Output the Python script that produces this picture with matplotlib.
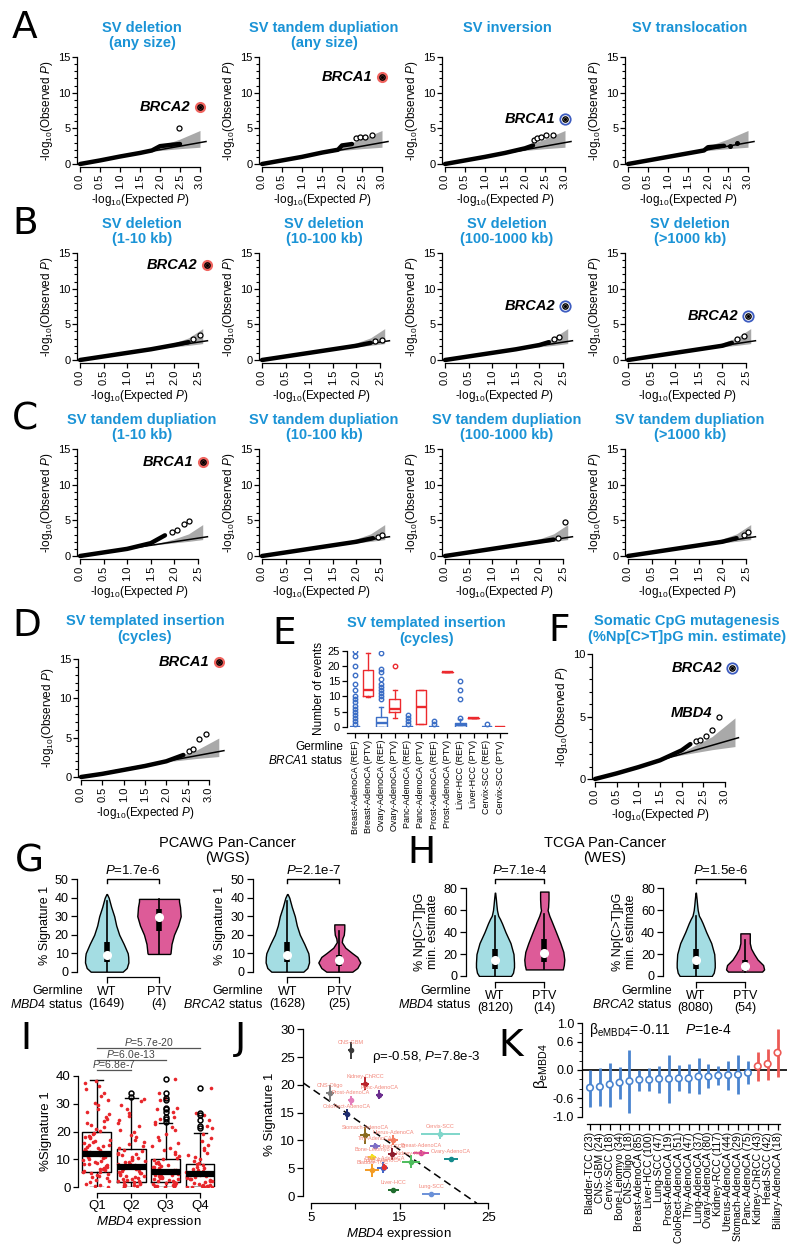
import numpy as np
import matplotlib
matplotlib.use('Agg')
import matplotlib.pyplot as plt
from matplotlib.ticker import MultipleLocator
import seaborn as sns

plt.rcParams['font.family'] = ['Liberation Sans', 'DejaVu Sans']
plt.rcParams['mathtext.fontset'] = 'custom'
plt.rcParams['mathtext.rm'] = 'Liberation Sans'
plt.rcParams['mathtext.it'] = 'Liberation Sans:italic'
plt.rcParams['mathtext.bf'] = 'Liberation Sans:bold'
plt.rcParams['axes.linewidth'] = 0.9

# ---------------- data: QQ plots (trend of dense points, separate points, hits)
band_a_x = [1.7, 2.0, 2.5, 3.0]
band_a_lo = [1.7, 1.9, 2.15, 2.35]
band_a_hi = [1.7, 2.5, 3.5, 4.7]
band_bc_x = [1.5, 2.0, 2.3, 2.6]
band_bc_lo = [1.5, 1.85, 2.05, 2.3]
band_bc_hi = [1.5, 2.4, 3.1, 4.4]
band_d_x = [1.8, 2.2, 2.7, 3.23]
band_d_lo = [1.8, 2.05, 2.35, 2.6]
band_d_hi = [1.8, 2.5, 3.4, 4.95]

a1_tx, a1_ty = [0, 0.5, 1.0, 1.5, 1.8, 2.0, 2.3, 2.5], [0, 0.5, 1.05, 1.55, 1.9, 2.5, 2.7, 2.8]
a1_px, a1_py = [2.48], [5.1]
a2_tx, a2_ty = [0, 0.5, 1.0, 1.5, 1.9, 2.0, 2.25], [0, 0.5, 1.0, 1.6, 2.0, 2.6, 2.8]
a2_px, a2_py = [2.34, 2.45, 2.58, 2.74], [3.7, 3.8, 3.85, 4.0]
a3_tx, a3_ty = [0, 0.5, 1.0, 1.5, 2.0, 2.2], [0, 0.5, 1.0, 1.55, 2.2, 2.6]
a3_px, a3_py = [2.23, 2.31, 2.4, 2.53, 2.7], [3.4, 3.7, 3.8, 4.05, 4.05]
a4_tx, a4_ty = [0, 0.5, 1.0, 1.5, 1.9, 2.0, 2.4], [0, 0.5, 1.0, 1.5, 1.9, 2.35, 2.55]
a4_px, a4_py = [2.55, 2.72], [2.55, 3.0]

b1_tx, b1_ty = [0, 0.5, 1.0, 1.5, 2.0, 2.3], [0, 0.5, 1.0, 1.5, 2.1, 2.5]
b1_px, b1_py = [2.4, 2.55], [2.9, 3.5]
b2_tx, b2_ty = [0, 0.5, 1.0, 1.5, 2.0, 2.3], [0, 0.5, 1.0, 1.5, 2.0, 2.4]
b2_px, b2_py = [2.4, 2.55], [2.6, 2.8]
b3_tx, b3_ty = [0, 0.5, 1.0, 1.5, 2.0, 2.2], [0, 0.5, 1.0, 1.5, 2.1, 2.5]
b3_px, b3_py = [2.3, 2.42], [3.0, 3.2]
b4_tx, b4_ty = [0, 0.5, 1.0, 1.5, 2.0, 2.2], [0, 0.5, 1.0, 1.5, 2.0, 2.4]
b4_px, b4_py = [2.3, 2.45], [3.0, 3.4]

c1_tx, c1_ty = [0, 0.5, 1.0, 1.5, 1.8], [0, 0.5, 1.0, 1.8, 2.9]
c1_px, c1_py = [1.95, 2.05, 2.2, 2.3], [3.3, 3.6, 4.5, 4.9]
c2_tx, c2_ty = [0, 0.5, 1.0, 1.5, 2.0, 2.35], [0, 0.5, 1.0, 1.5, 2.0, 2.5]
c2_px, c2_py = [2.45, 2.55], [2.7, 2.9]
c3_tx, c3_ty = [0, 0.5, 1.0, 1.5, 2.0, 2.3], [0, 0.5, 1.0, 1.5, 2.0, 2.3]
c3_px, c3_py = [2.4, 2.55], [2.5, 4.7]
c4_tx, c4_ty = [0, 0.5, 1.0, 1.5, 2.0, 2.3], [0, 0.5, 1.0, 1.5, 2.0, 2.5]
c4_px, c4_py = [2.45, 2.55], [3.0, 3.4]

d_tx, d_ty = [0, 0.5, 1.0, 1.5, 2.0, 2.4], [0, 0.4, 0.9, 1.4, 2.0, 2.8]
d_px, d_py = [2.54, 2.62, 2.76, 2.93], [3.34, 3.56, 4.83, 5.5]
f_tx, f_ty = [0, 0.5, 1.0, 1.5, 2.0, 2.2], [0, 0.45, 0.95, 1.5, 2.3, 2.8]
f_px, f_py = [2.33, 2.42, 2.56, 2.69], [3.05, 3.1, 3.47, 3.93]
f_mbd4 = (2.87, 4.95)

# ---------------- data: panel E boxplots
e_labels = ['Breast-AdenoCA (REF)', 'Breast-AdenoCA (PTV)', 'Ovary-AdenoCA (REF)',
            'Ovary-AdenoCA (PTV)', 'Panc-AdenoCA (REF)', 'Panc-AdenoCA (PTV)',
            'Prost-AdenoCA (REF)', 'Prost-AdenoCA (PTV)', 'Liver-HCC (REF)',
            'Liver-HCC (PTV)', 'Cervix-SCC (REF)', 'Cervix-SCC (PTV)']
e_med = [0, 12.1, 1.1, 6, 0, 6.6, 0, 18.2, 0.5, 3, 0, 0]
e_q1 = [0, 10.1, 0, 5, 0, 1, 0, 18.2, 0, 3, 0, 0]
e_q3 = [0, 18.7, 3.3, 9, 0, 12, 0, 18.2, 1.3, 3, 0, 0]
e_wlo = [0, 9.9, 0, 3, 0, 1, 0, 18.2, 0, 3, 0, 0]
e_whi = [0, 24.2, 6.4, 12, 0, 12, 0, 18.2, 2.4, 3, 0, 0]
e_fliers = [[1, 2, 3, 4, 5, 6, 7, 8, 9, 10, 12, 14, 17, 19.9, 23.3, 25],
            [], [9, 10, 11, 12, 13, 14, 15.6, 18, 19, 24.2], [20], [1, 2, 3, 4], [],
            [1, 2], [], [3, 9, 12, 15], [], [1], []]

# ---------------- data: panels G/H violins (y grid, relative density, lo/q1/med/q3/hi)
g_wt_y = [0, 2, 5, 8, 10, 15, 20, 25, 30, 35, 38, 40, 42]
g_wt_d = [16, 20, 21.7, 21.5, 21, 17, 12.5, 9.5, 7.5, 4.5, 3, 2, 0.3]
g_wt_box = [0, 5, 9, 16, 38]
g1_ptv_y = [9.6, 10, 15, 20, 25, 30, 35, 38, 39.4]
g1_ptv_d = [11, 11.5, 12.5, 15, 19, 21.7, 21, 20, 20]
g1_ptv_box = [9.6, 22, 29.5, 34, 39.4]
g2_ptv_y = [0, 2, 5, 8, 10, 13, 16, 18, 20, 23, 25.6]
g2_ptv_d = [13, 18, 21, 18, 13, 6, 2.5, 3, 4.5, 5, 5]
g2_ptv_box = [0, 3, 6.3, 9, 22]
h_wt_y = [0, 3, 8, 12, 20, 30, 40, 48, 52, 55, 60, 65, 70, 76]
h_wt_d = [16, 18, 19, 19, 18.5, 15.5, 10.5, 7, 5, 3.2, 2, 1.4, 0.9, 0.2]
h_wt_box = [0, 6, 14.5, 25, 55]
h1_ptv_y = [6, 10, 15, 22, 30, 40, 50, 55, 60, 63, 70, 77]
h1_ptv_d = [18.5, 19.5, 20, 19, 16, 11.7, 7.3, 5, 3.3, 3.8, 4.2, 4.2]
h1_ptv_box = [6, 13, 21.3, 34, 57]
h2_ptv_y = [4, 6, 10, 15, 20, 25, 30, 35, 38.9]
h2_ptv_d = [17, 19, 18, 12.5, 9, 6, 4.7, 4.7, 4.7]
h2_ptv_box = [4, 4.5, 9.1, 15, 33]

# ---------------- data: panel I
i_labels = ['Q1', 'Q2', 'Q3', 'Q4']
i_med = [11.8, 7.4, 5.6, 4.7]
i_q1 = [5.4, 1.9, 2.0, 0.2]
i_q3 = [19.7, 13.9, 10.3, 8.2]
i_whi = [38.4, 32.1, 22.9, 19.3]
i_fliers = [[], [32.5, 33.7],
            [23.5, 24.6, 25.3, 27.1, 27.9, 28.5, 31.3, 31.9, 33.9, 38.7],
            [21.4, 22.1, 24.1, 25.9, 26.5, 35.7]]
i_q1_pts = [0.1, 0.4, 0.9, 1.3, 1.8, 2.4, 2.7, 3.2, 3.6, 4.0, 4.3, 4.8, 5.1, 5.4, 5.5, 5.9,
            6.2, 6.6, 6.9, 7.2, 7.7, 8.1, 8.3, 8.8, 9.2, 9.6, 9.9, 10.3, 10.5, 10.9, 11.2,
            11.4, 11.7, 11.9, 12.2, 12.6, 12.9, 13.3, 13.7, 14.0, 14.5, 14.9, 15.3, 15.8,
            16.2, 16.7, 17.1, 17.6, 18.0, 18.5, 19.1, 19.6, 20.2, 20.9, 21.5, 22.2, 22.9,
            23.7, 24.4, 25.3, 26.1, 27.0, 28.2, 29.4, 30.1, 31.3, 32.6, 33.8, 35.1, 36.2,
            37.4, 38.0, 11.6, 12.0, 10.7, 13.1, 8.5, 6.4, 15.1, 17.9]
i_q2_pts = [0.0, 0.2, 0.4, 0.7, 0.9, 1.2, 1.5, 1.8, 2.0, 2.3, 2.6, 2.9, 3.3, 3.6, 3.9, 4.3,
            4.6, 5.0, 5.3, 5.7, 6.0, 6.4, 6.8, 7.1, 7.4, 7.7, 8.1, 8.5, 8.9, 9.2, 9.6, 10.1,
            10.5, 11.0, 11.4, 11.9, 12.4, 12.9, 13.5, 14.1, 14.8, 15.5, 16.3, 17.0, 17.9,
            18.8, 19.7, 20.7, 21.8, 22.9, 24.1, 25.4, 26.8, 28.2, 29.6, 30.9, 31.8, 7.3,
            7.6, 6.6, 8.3, 5.5, 3.1, 1.0, 9.9, 12.1, 4.1, 2.2]
i_q3_pts = [0.0, 0.1, 0.3, 0.5, 0.8, 1.0, 1.3, 1.6, 1.9, 2.1, 2.4, 2.7, 3.0, 3.3, 3.5, 3.8,
            4.1, 4.4, 4.7, 5.0, 5.2, 5.5, 5.7, 6.0, 6.3, 6.6, 6.9, 7.3, 7.6, 8.0, 8.4, 8.8,
            9.2, 9.7, 10.1, 10.6, 11.2, 11.8, 12.5, 13.2, 14.0, 14.9, 15.8, 16.9, 18.0,
            19.2, 20.5, 21.7, 22.8, 5.4, 5.8, 5.6, 4.9, 6.2, 3.6, 2.9, 4.3, 7.1, 1.5, 0.6,
            23.5, 24.6, 25.3, 27.1, 27.9, 28.5, 31.3, 31.9, 33.9, 38.7]
i_q4_pts = [0.0, 0.0, 0.1, 0.2, 0.4, 0.6, 0.9, 1.2, 1.5, 1.8, 2.1, 2.4, 2.7, 3.0, 3.3, 3.6,
            3.9, 4.2, 4.4, 4.6, 4.8, 5.0, 5.3, 5.6, 5.9, 6.2, 6.6, 7.0, 7.4, 7.9, 8.3, 8.8,
            9.4, 10.0, 10.7, 11.5, 12.3, 13.2, 14.2, 15.3, 16.5, 17.8, 19.1, 4.7, 4.5, 4.9,
            5.2, 3.8, 2.9, 1.0, 0.3, 6.0, 21.4, 22.1, 24.1, 25.9, 26.5, 35.7]

# ---------------- data: panel J
j_names = ['CNS-GBM', 'Kidney-ChRCC', 'Panc-AdenoCA', 'CNS-Oligo', 'Prost-AdenoCA',
           'ColoRect-AdenoCA', 'Stomach-AdenoCA', 'Uterus-AdenoCA', 'Thy-AdenoCA', 'Head-SCC',
           'Bone-Leiomyo', 'Breast-AdenoCA', 'Ovary-AdenoCA', 'Cervix-SCC', 'Kidney-RCC',
           'Bladder-TCC', 'Lung-AdenoCA', 'Biliary-AdenoCA', 'Liver-HCC', 'Lung-SCC']
j_x = [9.5, 11.1, 12.7, 7.2, 9.5, 9.05, 11.15, 14.3, 12.25, 14.2, 11.9, 17.4, 20.8, 19.6,
       16.3, 11.9, 13.1, 13.3, 14.3, 18.55]
j_y = [26.2, 20.2, 18.2, 18.5, 17.2, 14.7, 10.9, 10.0, 9.0, 7.6, 7.0, 7.8, 6.6, 11.2, 6.2,
       4.6, 5.1, 5.3, 1.1, 0.3]
j_xerr = [0.3, 0.45, 0.4, 0.45, 0.25, 0.4, 0.55, 0.55, 0.6, 0.5, 0.45, 0.9, 0.8, 2.2, 1.0,
          0.8, 0.6, 0.3, 0.6, 1.0]
j_yerr = [1.5, 1.2, 0.8, 1.4, 0.8, 1.0, 1.5, 0.9, 0.6, 1.1, 0.5, 0.5, 0.3, 0.9, 1.2, 1.1,
          1.0, 0.5, 0.3, 0.2]
j_colors = ['#3a3a3a', '#b8232b', '#6a2d8e', '#7d7d7d', '#e27cbb', '#1d2b6e', '#8a6a1f',
            '#f27a5e', '#7b6dc6', '#8c1c2c', '#f3e11e', '#d6449a', '#138a8c', '#7fd6ca',
            '#4dbc5c', '#f39b22', '#3f63c9', '#e2312e', '#1f6c2e', '#6b91d8']
j_fit_x = [4.2, 23.7]
j_fit_y = [20.3, -1.3]

# ---------------- data: panel K
k_names = ['Bladder-TCC', 'CNS-GBM', 'Cervix-SCC', 'Bone-Leiomyo', 'CNS-Oligo',
           'Breast-AdenoCA', 'Liver-HCC', 'Lung-SCC', 'Prost-AdenoCA', 'ColoRect-AdenoCA',
           'Thy-AdenoCA', 'Lung-AdenoCA', 'Ovary-AdenoCA', 'Kidney-RCC', 'Uterus-AdenoCA',
           'Stomach-AdenoCA', 'Panc-AdenoCA', 'Kidney-ChRCC', 'Head-SCC', 'Biliary-AdenoCA']
k_n = [23, 24, 18, 34, 18, 85, 100, 47, 19, 51, 47, 37, 80, 117, 44, 29, 75, 43, 42, 18]
k_beta = [-0.38, -0.36, -0.31, -0.27, -0.24, -0.21, -0.21, -0.19, -0.19, -0.18, -0.18,
          -0.14, -0.14, -0.12, -0.11, -0.10, -0.06, 0.08, 0.13, 0.37]
k_lo = [-0.79, -0.77, -0.79, -0.63, -0.93, -0.45, -0.45, -0.49, -0.70, -0.46, -0.49, -0.52,
        -0.39, -0.32, -0.43, -0.52, -0.31, -0.24, -0.21, -0.16]
k_hi = [0.01, 0.04, 0.16, 0.07, 0.43, 0.01, 0.04, 0.09, 0.32, 0.11, 0.13, 0.25, 0.13, 0.09,
        0.20, 0.32, 0.19, 0.39, 0.46, 0.87]

# ---------------- layout helpers (pixel coordinates, origin top-left)
W, H = 800, 1252
TBLUE = '#1a93d6'
fig = plt.figure(figsize=(8, 12.52), dpi=100)


def add_ax(x0, y0, x1, y1):
    return fig.add_axes([x0 / W, 1 - y1 / H, (x1 - x0) / W, (y1 - y0) / H])


def ftext(x, y, s, **kw):
    return fig.text(x / W, 1 - y / H, s, **kw)


def letter(x, y, s):
    ftext(x, y, s, fontsize=27, family='DejaVu Sans', ha='left', va='top')


def blue_title(cx, cy, s):
    ftext(cx, cy, s, ha='center', va='center', color=TBLUE, fontweight='bold',
          fontsize=10.5, linespacing=1.1)


def qq(box, xmax, ymax, tx, ty, px, py, band, ref_end, hit=None, gene=None,
       ring='red', dots=False, ystep=5):
    ax = add_ax(*box)
    ax.set_xlim(0, xmax)
    ax.set_ylim(0, ymax)
    ax.fill_between(band[0], band[1], band[2], color='#a9a9a9', lw=0, zorder=1,
                    clip_on=False)
    ax.plot([0, ref_end], [0, ref_end], color='black', lw=1.1, zorder=2, clip_on=False)
    ax.plot(tx, ty, color='black', lw=3.2, solid_capstyle='round', zorder=3, clip_on=False)
    if dots:
        ax.plot(px, py, 'o', ms=2.6, color='black', zorder=4, clip_on=False)
    else:
        ax.plot(px, py, 'o', ms=3.6, mfc='white', mec='black', mew=0.9, zorder=4,
                clip_on=False)
    if hit is not None:
        hx, hy = hit
        if ring == 'red':
            ax.plot(hx, hy, 'o', ms=7, mfc='#f0645f', mec='#f0645f', zorder=5, clip_on=False)
        else:
            ax.plot(hx, hy, 'o', ms=7.5, mfc='white', mec='#3d5cc0', mew=1.3, zorder=5,
                    clip_on=False)
        ax.plot(hx, hy, 'o', ms=3.8, mfc='none', mec='black', mew=1, zorder=6, clip_on=False)
        ax.plot(hx, hy, 'o', ms=1.4, color='black', zorder=7, clip_on=False)
        ax.annotate(gene, (hx, hy), xytext=(-7, 0), textcoords='offset points', ha='right',
                    va='center', fontsize=10.5, fontweight='bold', fontstyle='italic',
                    annotation_clip=False)
    for s in ('top', 'right'):
        ax.spines[s].set_visible(False)
    ax.spines['left'].set_position(('outward', 2))
    ax.spines['bottom'].set_position(('outward', 2))
    xt = np.arange(0, int(xmax * 2 + 0.01) + 1) * 0.5
    ax.set_xticks(xt)
    ax.set_xticklabels(['%.1f' % v for v in xt], rotation=90)
    ax.set_yticks(np.arange(0, ymax + 0.1, ystep))
    ax.yaxis.set_minor_locator(MultipleLocator(1))
    ax.spines['bottom'].set_bounds(0, xt[-1])
    ax.spines['left'].set_bounds(0, ymax)
    ax.tick_params(direction='out', length=3.5, width=0.9, labelsize=8, pad=1.5)
    ax.tick_params(which='minor', length=2, width=0.8)
    ax.set_ylabel(r'-log$_{10}$(Observed $P$)', fontsize=8.5, labelpad=2)
    ax.set_xlabel(r'-log$_{10}$(Expected $P$)', fontsize=8.5, labelpad=2)
    return ax


# ---------------- rows A, B, C
col_x = [80, 262, 445, 628]
band_a = (band_a_x, band_a_lo, band_a_hi)
band_bc = (band_bc_x, band_bc_lo, band_bc_hi)

letter(12, 10, 'A')
titles_a = ['SV deletion\n(any size)', 'SV tandem dupliation\n(any size)', 'SV inversion',
            'SV translocation']
for x0, t in zip(col_x, titles_a):
    blue_title(x0 + 62, 35.5 if '\n' in t else 28, t)
qq((80, 57, 200, 164), 3, 15, a1_tx, a1_ty, a1_px, a1_py, band_a, 3.15, (3.0, 8.0), 'BRCA2')
qq((262, 57, 382, 164), 3, 15, a2_tx, a2_ty, a2_px, a2_py, band_a, 3.15, (3.0, 12.2), 'BRCA1')
qq((445, 57, 565, 164), 3, 15, a3_tx, a3_ty, a3_px, a3_py, band_a, 3.15, (3.0, 6.3), 'BRCA1',
   ring='blue')
qq((628, 57, 748, 164), 3, 15, a4_tx, a4_ty, a4_px, a4_py, band_a, 3.15, dots=True)

letter(12, 206, 'B')
for x0, t in zip(col_x, ['(1-10 kb)', '(10-100 kb)', '(100-1000 kb)', '(>1000 kb)']):
    blue_title(x0 + 62, 231.5, 'SV deletion\n' + t)
qq((80, 253, 198, 360), 2.5, 15, b1_tx, b1_ty, b1_px, b1_py, band_bc, 2.7, (2.7, 13.3), 'BRCA2')
qq((262, 253, 380, 360), 2.5, 15, b2_tx, b2_ty, b2_px, b2_py, band_bc, 2.7)
qq((445, 253, 563, 360), 2.5, 15, b3_tx, b3_ty, b3_px, b3_py, band_bc, 2.7, (2.55, 7.5),
   'BRCA2', ring='blue')
qq((628, 253, 746, 360), 2.5, 15, b4_tx, b4_ty, b4_px, b4_py, band_bc, 2.7, (2.55, 6.1),
   'BRCA2', ring='blue')

letter(12, 402, 'C')
for x0, t in zip(col_x, ['(1-10 kb)', '(10-100 kb)', '(100-1000 kb)', '(>1000 kb)']):
    blue_title(x0 + 62, 427.5, 'SV tandem dupliation\n' + t)
qq((80, 449, 198, 556), 2.5, 15, c1_tx, c1_ty, c1_px, c1_py, band_bc, 2.7, (2.6, 13.2), 'BRCA1')
qq((262, 449, 380, 556), 2.5, 15, c2_tx, c2_ty, c2_px, c2_py, band_bc, 2.7)
qq((445, 449, 563, 556), 2.5, 15, c3_tx, c3_ty, c3_px, c3_py, band_bc, 2.7)
qq((628, 449, 746, 556), 2.5, 15, c4_tx, c4_ty, c4_px, c4_py, band_bc, 2.7)

# ---------------- D
letter(12, 608, 'D')
blue_title(145, 629, 'SV templated insertion\n(cycles)')
qq((81, 659, 209, 777), 3, 15, d_tx, d_ty, d_px, d_py, (band_d_x, band_d_lo, band_d_hi),
   3.35, (3.23, 14.6), 'BRCA1')

# ---------------- E
letter(272, 616, 'E')
blue_title(426.5, 631, 'SV templated insertion\n(cycles)')
ax = add_ax(347, 651, 507, 726.7)
ax.set_xlim(-0.61, 11.53)
ax.set_ylim(0, 25)
e_stats = [dict(med=m, q1=a, q3=b, whislo=lo, whishi=hi, fliers=f)
           for m, a, b, lo, hi, f in zip(e_med, e_q1, e_q3, e_wlo, e_whi, e_fliers)]
res = ax.bxp(e_stats, positions=np.arange(12), widths=0.8, capwidths=0.3, showfliers=True,
             boxprops=dict(lw=1), whiskerprops=dict(lw=1), capprops=dict(lw=1),
             medianprops=dict(lw=1.7), flierprops=dict(marker='o', ms=3.2, mfc='none', mew=1))
for i in range(12):
    c = '#3d6fc6' if i % 2 == 0 else '#ec2a2e'
    res['boxes'][i].set_color(c)
    res['medians'][i].set_color(c)
    for art in res['whiskers'][2 * i:2 * i + 2] + res['caps'][2 * i:2 * i + 2]:
        art.set_color(c)
    res['fliers'][i].set_markeredgecolor(c)
for s in ('top', 'right'):
    ax.spines[s].set_visible(False)
ax.spines['bottom'].set_position(('outward', 4.5))
ax.spines['left'].set_bounds(0, 25)
ax.set_yticks([0, 5, 10, 15, 20, 25])
ax.set_xticks(np.arange(12))
ax.set_xticklabels(e_labels, rotation=90, fontsize=6.5)
ax.tick_params(direction='out', length=3.5, width=0.9, labelsize=8, pad=1.5)
ax.tick_params(axis='x', labelsize=6.5)
ax.set_ylabel('Number of events', fontsize=8.5, labelpad=2)
ftext(343, 747, 'Germline', ha='right', va='center', fontsize=8.5)
ftext(343, 760, r'$\mathit{BRCA1}$ status', ha='right', va='center', fontsize=8.5)

# ---------------- F
letter(548, 613, 'F')
blue_title(686.7, 629, 'Somatic CpG mutagenesis\n(%Np[C>T]pG min. estimate)')
ax = qq((595, 654.3, 725, 779), 3, 10, f_tx, f_ty, f_px, f_py,
        (band_d_x, band_d_lo, [1.8, 2.5, 3.4, 4.9]), 3.31, (3.16, 8.88), 'BRCA2', ring='blue')
ax.plot(*f_mbd4, 'o', ms=3.6, mfc='white', mec='black', mew=0.9, zorder=4, clip_on=False)
ax.annotate('MBD4', f_mbd4, xytext=(-5, 3), textcoords='offset points', ha='right',
            va='center', fontsize=10.5, fontweight='bold', fontstyle='italic',
            annotation_clip=False)


# ---------------- G / H violins
def violin_panel(box, xlim, ymax, ystep, pxu, wt, ptv, ylabel, ptext, gene, n_wt, n_ptv,
                 bracket_y, tick_y):
    ax = add_ax(*box)
    ax.set_xlim(*xlim)
    ax.set_ylim(0, ymax)
    for pos, (yy, dd, bx), col in zip([0, 1], [wt, ptv], ['#a4dde3', '#dd5b98']):
        st = dict(coords=yy, vals=dd, mean=bx[2], median=bx[2], min=yy[0], max=yy[-1])
        parts = ax.violin([st], positions=[pos], widths=2 * max(dd) / pxu,
                          showmeans=False, showextrema=False, showmedians=False)
        for b in parts['bodies']:
            b.set_facecolor(col)
            b.set_edgecolor('black')
            b.set_linewidth(1)
            b.set_alpha(1)
        ax.plot([pos, pos], [bx[0], bx[4]], color='black', lw=1.2, zorder=3)
        ax.plot([pos, pos], [bx[1], bx[3]], color='black', lw=4, solid_capstyle='butt',
                zorder=4)
        ax.plot(pos, bx[2], 'o', ms=5.5, color='white', zorder=5)
    ax.plot([0, 0, 1, 1], [tick_y, bracket_y, bracket_y, tick_y], color='black', lw=1,
            clip_on=False)
    ax.text(0.5, bracket_y + ymax * 0.03, ptext, ha='center', va='bottom', fontsize=9.5)
    for s in ('top', 'right'):
        ax.spines[s].set_visible(False)
    ax.spines['bottom'].set_position(('outward', 4))
    ax.spines['bottom'].set_bounds(0, 1)
    ax.spines['left'].set_bounds(0, ymax)
    ax.set_yticks(np.arange(0, ymax + 0.1, ystep))
    ax.set_xticks([0, 1])
    ax.set_xticklabels(['WT\n(%d)' % n_wt, 'PTV\n(%d)' % n_ptv], linespacing=1.05)
    ax.tick_params(direction='out', length=4, width=0.9, labelsize=9, pad=2)
    ax.set_ylabel(ylabel, fontsize=9, labelpad=3, linespacing=1.1)
    wt_px = box[0] - xlim[0] * pxu
    ftext(wt_px - 24, 991, 'Germline', ha='right', va='center', fontsize=9)
    ftext(wt_px - 24, 1005, r'$\mathit{%s}$ status' % gene, ha='right', va='center',
          fontsize=9)
    return ax


letter(15, 843, 'G')
ftext(227, 850.5, 'PCAWG Pan-Cancer\n(WGS)', ha='center', va='center', fontsize=10.5,
      linespacing=1.1)
violin_panel((77, 879.3, 185, 971.7), (-0.568, 1.497), 50, 10, 52.3,
             (g_wt_y, g_wt_d, g_wt_box), (g1_ptv_y, g1_ptv_d, g1_ptv_box),
             '% Signature 1', r'$P$=1.7e-6', 'MBD4', 1649, 4, 50, 48)
violin_panel((253, 879.3, 365, 971.7), (-0.66, 1.494), 50, 10, 52.0,
             (g_wt_y, g_wt_d, g_wt_box), (g2_ptv_y, g2_ptv_d, g2_ptv_box),
             '% Signature 1', r'$P$=2.1e-7', 'BRCA2', 1628, 25, 50, 48)

letter(407, 835, 'H')
ftext(605, 850.5, 'TCGA Pan-Cancer\n(WES)', ha='center', va='center', fontsize=10.5,
      linespacing=1.1)
violin_panel((465.7, 888.3, 570, 976), (-0.594, 1.521), 80, 20, 49.3,
             (h_wt_y, h_wt_d, h_wt_box), (h1_ptv_y, h1_ptv_d, h1_ptv_box),
             '% Np[C>T]pG\nmin. estimate', r'$P$=7.1e-4', 'MBD4', 8120, 14, 88.2, 84.5)
violin_panel((663.3, 888.3, 770, 976), (-0.657, 1.505), 80, 20, 49.3,
             (h_wt_y, h_wt_d, h_wt_box), (h2_ptv_y, h2_ptv_d, h2_ptv_box),
             '% Np[C>T]pG\nmin. estimate', r'$P$=1.5e-6', 'BRCA2', 8080, 54, 88.2, 84.5)

# ---------------- I
letter(20, 1021, 'I')
ax = add_ax(78.3, 1075.7, 220, 1187.3)
sns.stripplot(data=[np.array(i_q1_pts), np.array(i_q2_pts), np.array(i_q3_pts),
                    np.array(i_q4_pts)], ax=ax, color='#e8262b', size=2.6, jitter=0.4,
              linewidth=0, zorder=3)
i_stats = [dict(med=m, q1=a, q3=b, whislo=0, whishi=hi, fliers=f)
           for m, a, b, hi, f in zip(i_med, i_q1, i_q3, i_whi, i_fliers)]
ax.bxp(i_stats, positions=np.arange(4), widths=0.84, capwidths=0.38, showfliers=True,
       boxprops=dict(lw=1, color='black', zorder=2), whiskerprops=dict(lw=1, zorder=2),
       capprops=dict(lw=1, zorder=2), medianprops=dict(lw=4.5, color='black', zorder=4),
       flierprops=dict(marker='o', ms=3.5, mfc='none', mec='black', mew=1.1, zorder=5))
ax.set_xlim(-0.54, 3.58)
ax.set_ylim(0, 40)
for s in ('top', 'right'):
    ax.spines[s].set_visible(False)
ax.spines['bottom'].set_position(('outward', 4))
ax.spines['bottom'].set_bounds(0, 3)
ax.spines['left'].set_bounds(0, 40)
ax.set_xticks(np.arange(4))
ax.set_xticklabels(i_labels)
ax.set_yticks([0, 10, 20, 30, 40])
ax.tick_params(direction='out', length=3.5, width=0.9, labelsize=9.5, pad=2)
ax.set_ylabel('%Signature 1', fontsize=9.5, labelpad=3)
ax.set_xlabel(r'$\mathit{MBD4}$ expression', fontsize=9.5, labelpad=1)
for k, (yy, t) in enumerate(zip([42.0, 45.6, 49.8], ['$P$=6.8e-7', '$P$=6.0e-13',
                                                       '$P$=5.7e-20'])):
    ax.plot([0, k + 1], [yy, yy], color='#555555', lw=0.9, clip_on=False)
    ax.text((k + 1) / 2, yy + 0.2, t, ha='center', va='bottom', fontsize=7.5,
            color='#444444')

# ---------------- J
letter(235, 1021, 'J')
ax = add_ax(303.3, 1025, 495, 1203.3)
ax.set_xlim(4.17, 25.75)
ax.set_ylim(-1.31, 30.76)
ax.plot(j_fit_x, j_fit_y, color='black', lw=1.1, dashes=(5, 3), zorder=1)
for x, y, xe, ye, c, n in zip(j_x, j_y, j_xerr, j_yerr, j_colors, j_names):
    ax.errorbar(x, y, xerr=xe, yerr=ye, fmt='o', color=c, ms=3, elinewidth=1.4, capsize=0,
                zorder=3)
    ax.annotate(n, (x, y), xytext=(0, 5.5), textcoords='offset points', ha='center',
                va='center', fontsize=4.0, color='#f2877b', zorder=4)
for s in ('top', 'right'):
    ax.spines[s].set_visible(False)
ax.spines['left'].set_bounds(0, 30)
ax.spines['bottom'].set_bounds(5, 25)
ax.set_xticks([5, 10, 15, 20, 25])
ax.set_xticklabels(['5', '', '15', '', '25'])
ax.set_yticks([0, 5, 10, 15, 20, 25, 30])
ax.tick_params(direction='out', length=4, width=0.9, labelsize=9.5, pad=2)
ax.set_ylabel('% Signature 1', fontsize=9.5, labelpad=3)
ax.set_xlabel(r'$\mathit{MBD4}$ expression', fontsize=9.5, labelpad=2)
ftext(371.7, 1057.3, r'ρ=-0.58, $P$=7.8e-3', ha='left', va='center', fontsize=9.5)

# ---------------- K
letter(498, 1028, 'K')
ax = add_ax(581.7, 1016, 786.7, 1116.7)
ax.set_xlim(-0.84, 19.93)
ax.set_ylim(-1.0, 1.156)
xk = np.arange(len(k_names))
k_colors = ['#ec5a55' if b > 0 else '#4a84cf' for b in k_beta]
ax.axhline(0, color='black', lw=1.2, zorder=1)
ax.vlines(xk, k_lo, k_hi, colors=k_colors, lw=2, zorder=2)
ax.scatter(xk, k_beta, s=22, facecolors='white', edgecolors=k_colors, linewidths=1.2,
           zorder=3)
for s in ('top', 'right'):
    ax.spines[s].set_visible(False)
ax.spines['bottom'].set_position(('outward', 5))
ax.spines['bottom'].set_bounds(-0.35, 19.25)
ax.spines['left'].set_bounds(-1.0, 1.0)
ax.set_yticks([1.0, 0.6, 0.0, -0.6, -1.0])
ax.set_yticklabels(['1.0', '0.6', '0.0', '-0.6', '-1.0'])
ax.yaxis.set_minor_locator(MultipleLocator(0.2))
ax.set_xticks(xk)
ax.set_xticklabels(['%s (%d)' % (n, c) for n, c in zip(k_names, k_n)], rotation=90)
ax.tick_params(direction='out', length=3.5, width=0.9, labelsize=9, pad=2)
ax.tick_params(which='minor', length=2)
ax.tick_params(axis='x', labelsize=7.5, length=4)
ax.set_ylabel(r'β$_{\mathrm{eMBD4}}$', fontsize=11, labelpad=2)
ftext(630, 1030, r'β$_{\mathrm{eMBD4}}$=-0.11', ha='center', va='center', fontsize=10)
ftext(708, 1030, r'$P$=1e-4', ha='center', va='center', fontsize=10)

fig.savefig('out.png', dpi=100, facecolor='white')
